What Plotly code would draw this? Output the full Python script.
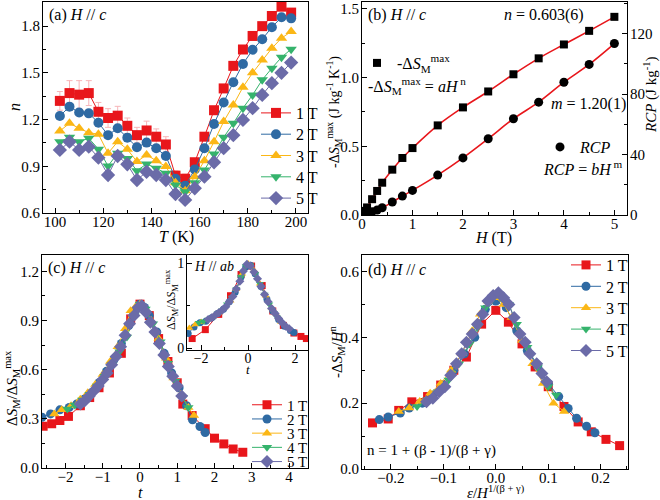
import plotly.graph_objects as go

FONT = "Liberation Serif"
RED, BLUE, YEL, GRN, PUR = "#E8161B", "#2F6AA3", "#FBB716", "#35B36C", "#6B6BA8"
COLORS = [RED, BLUE, YEL, GRN, PUR]
SYMS = ["square", "circle", "triangle-up", "triangle-down", "diamond"]
NAMES = ["1 T", "2 T", "3 T", "4 T", "5 T"]

# ---------- panel (a): n vs T ----------
T_a = [102, 106, 110, 114, 118, 122, 126, 130, 134, 138, 142, 146, 150, 154, 158,
       162, 166, 170, 174, 178, 182, 186, 190, 194, 198]
n_1T = [1.32, 1.37, 1.36, 1.37, 1.25, 1.21, 1.225, 1.16, 1.10, 1.13, 1.09, 1.04, 0.84, 0.82, 0.926,
        1.09, 1.26, 1.40, 1.545, 1.65, 1.737, 1.80, 1.865, 1.925, 1.887]
n_2T = [1.223, 1.283, 1.245, 1.24, 1.18, 1.10, 1.144, 1.084, 1.022, 1.052, 1.016, 0.966, 0.82, 0.775, 0.88,
        1.016, 1.172, 1.31, 1.44, 1.557, 1.648, 1.716, 1.793, 1.857, 1.85]
n_3T = [1.127, 1.176, 1.144, 1.116, 1.106, 0.984, 1.058, 1.009, 0.93, 0.973, 0.936, 0.898, 0.795, 0.743, 0.833,
        0.936, 1.058, 1.187, 1.294, 1.408, 1.50, 1.583, 1.658, 1.723, 1.765]
n_4T = [1.058, 1.086, 1.058, 1.08, 1.01, 0.902, 0.984, 0.95, 0.872, 0.915, 0.887, 0.855, 0.78, 0.737, 0.795,
        0.876, 0.979, 1.086, 1.176, 1.273, 1.358, 1.455, 1.53, 1.60, 1.652]
n_5T = [1.005, 1.058, 1.005, 1.026, 0.955, 0.844, 0.966, 0.913, 0.812, 0.865, 0.844, 0.812, 0.722, 0.684, 0.759,
        0.833, 0.926, 1.016, 1.10, 1.198, 1.273, 1.358, 1.434, 1.50, 1.566]
n_err_1T = [0.06, 0.08, 0.09, 0.08, 0.06, 0.06, 0.06, 0.05, 0.05, 0.06, 0.05, 0.05, 0.03, 0.03, 0.02,
            0.02, 0.02, 0.02, 0.02, 0.02, 0.02, 0.02, 0.02, 0.02, 0.02]

# ---------- panel (b) ----------
H_b = [0.05, 0.1, 0.2, 0.3, 0.4, 0.6, 0.8, 1.0, 1.5, 2.0, 2.5, 3.0, 3.5, 4.0, 4.5, 5.0]
dSmax = [0.03, 0.055, 0.115, 0.175, 0.235, 0.33, 0.415, 0.487, 0.652, 0.783, 0.899, 1.024, 1.14, 1.241, 1.34, 1.442]
RCP = [0.6, 1.1, 2.2, 3.3, 4.8, 8.6, 12.5, 16.3, 26.4, 37.8, 50.5, 63.7, 74.7, 87.9, 99.7, 113.5]

# ---------- panel (c): main ----------
t_c = [
    [-2.6, -2.37, -2.15, -1.92, -1.6, -1.35, -1.1, -0.82, -0.5, -0.25, 0.0, 0.25, 0.5, 0.75, 1.0, 1.15, 1.4, 1.75, 2.0, 2.25, 2.5, 2.76],
    [-2.63, -2.4, -2.15, -1.9, -1.7, -1.5, -1.3, -1.1, -0.9, -0.7, -0.5, -0.3, -0.15, 0.0, 0.12, 0.25, 0.45, 0.65, 0.85, 1.05, 1.25, 1.41, 1.61, 1.75],
    [-2.3, -2.1, -1.85, -1.6, -1.4, -1.2, -1.0, -0.8, -0.6, -0.4, -0.25, -0.1, 0.0, 0.15, 0.3, 0.5, 0.7, 0.9, 1.1, 1.3, 1.45],
    [-1.95, -1.75, -1.55, -1.35, -1.15, -0.95, -0.75, -0.55, -0.35, -0.15, 0.0, 0.15, 0.35, 0.55, 0.75, 0.95, 1.15, 1.3],
    [-1.6, -1.48, -1.36, -1.24, -1.12, -1.0, -0.88, -0.76, -0.64, -0.52, -0.4, -0.28, -0.16, -0.05, 0.05, 0.16, 0.28, 0.4, 0.52, 0.64, 0.76, 0.88, 1.0, 1.12],
]
v_c = [
    [0.255, 0.27, 0.29, 0.315, 0.38, 0.43, 0.49, 0.58, 0.70, 0.91, 1.0, 0.93, 0.79, 0.65, 0.52, 0.39, 0.32, 0.24, 0.182, 0.147, 0.116, 0.096],
    [0.31, 0.33, 0.355, 0.37, 0.39, 0.42, 0.46, 0.52, 0.59, 0.66, 0.76, 0.87, 0.95, 1.0, 0.98, 0.93, 0.83, 0.70, 0.58, 0.49, 0.38, 0.294, 0.253, 0.217],
    [0.33, 0.355, 0.38, 0.42, 0.46, 0.51, 0.57, 0.65, 0.74, 0.85, 0.96, 0.99, 1.0, 0.97, 0.90, 0.79, 0.67, 0.55, 0.45, 0.37, 0.321],
    [0.36, 0.385, 0.415, 0.45, 0.50, 0.56, 0.63, 0.71, 0.80, 0.93, 1.0, 0.97, 0.88, 0.77, 0.64, 0.53, 0.43, 0.37],
    [0.39, 0.41, 0.44, 0.47, 0.50, 0.54, 0.58, 0.63, 0.68, 0.74, 0.81, 0.88, 0.93, 0.98, 0.99, 0.95, 0.89, 0.83, 0.76, 0.69, 0.62, 0.56, 0.50, 0.44],
]

# ---------- panel (c): inset H // ab ----------
t_in = [
    [-2.38, -1.82, -1.25, -0.75, -0.3, 0.15, 0.6, 1.05, 1.5, 1.95, 2.25, 2.48],
    [-2.55, -2.3, -2.05, -1.8, -1.55, -1.3, -1.05, -0.8, -0.55, -0.3, -0.1, 0.1, 0.3, 0.55, 0.8, 1.05, 1.3, 1.55, 1.8, 1.95],
    [-2.5, -2.25, -2.0, -1.75, -1.5, -1.25, -1.0, -0.75, -0.5, -0.25, 0.0, 0.25, 0.5, 0.75, 1.0, 1.2, 1.4],
    [-2.1, -1.9, -1.7, -1.5, -1.3, -1.1, -0.9, -0.7, -0.5, -0.3, -0.1, 0.1, 0.3, 0.5, 0.7, 0.9, 1.1, 1.22],
    [-1.7, -1.55, -1.4, -1.25, -1.1, -0.95, -0.8, -0.65, -0.5, -0.35, -0.2, -0.05, 0.1, 0.25, 0.4, 0.55, 0.7, 0.85, 1.0, 1.15, 1.3, 1.45, 1.6, 1.75],
]
v_in = [
    [0.115, 0.22, 0.40, 0.62, 0.87, 0.97, 0.74, 0.44, 0.27, 0.18, 0.14, 0.115],
    [0.175, 0.25, 0.30, 0.32, 0.36, 0.41, 0.46, 0.55, 0.66, 0.84, 0.96, 0.98, 0.88, 0.73, 0.58, 0.44, 0.34, 0.26, 0.21, 0.185],
    [0.24, 0.28, 0.31, 0.33, 0.37, 0.42, 0.48, 0.56, 0.70, 0.88, 1.0, 0.92, 0.76, 0.62, 0.48, 0.40, 0.31],
    [0.30, 0.32, 0.34, 0.37, 0.41, 0.45, 0.52, 0.60, 0.70, 0.84, 0.97, 0.98, 0.88, 0.76, 0.635, 0.52, 0.42, 0.37],
    [0.34, 0.36, 0.39, 0.42, 0.45, 0.49, 0.55, 0.61, 0.70, 0.79, 0.91, 0.99, 0.97, 0.90, 0.82, 0.73, 0.635, 0.55, 0.47, 0.41, 0.35, 0.30, 0.26, 0.23],
]

# ---------- panel (d) ----------
x_d = [
    [-0.235, -0.205, -0.185, -0.16, -0.13, -0.105, -0.08, -0.056, -0.027, 0.0, 0.024, 0.05, 0.075, 0.1, 0.13, 0.157, 0.182, 0.21, 0.236],
    [-0.222, -0.205, -0.182, -0.165, -0.14, -0.12, -0.1, -0.08, -0.06, -0.04, -0.02, 0.0, 0.02, 0.04, 0.06, 0.08, 0.1, 0.12, 0.138, 0.154, 0.173, 0.189],
    [-0.185, -0.165, -0.145, -0.125, -0.105, -0.085, -0.065, -0.045, -0.03, -0.015, 0.0, 0.015, 0.03, 0.05, 0.07, 0.09, 0.11, 0.13],
    [-0.15, -0.13, -0.11, -0.09, -0.07, -0.05, -0.035, -0.02, -0.005, 0.01, 0.025, 0.04, 0.06, 0.08, 0.1, 0.115],
    [-0.132, -0.12, -0.108, -0.097, -0.086, -0.075, -0.065, -0.056, -0.045, -0.035, -0.025, -0.015, -0.005, 0.005, 0.015, 0.025, 0.035, 0.046, 0.056, 0.065, 0.078, 0.088, 0.097],
]
y_d = [
    [0.14, 0.152, 0.178, 0.204, 0.22, 0.255, 0.30, 0.34, 0.44, 0.482, 0.446, 0.38, 0.31, 0.25, 0.19, 0.143, 0.113, 0.09, 0.071],
    [0.15, 0.158, 0.17, 0.185, 0.20, 0.225, 0.255, 0.30, 0.35, 0.40, 0.485, 0.51, 0.49, 0.42, 0.36, 0.31, 0.26, 0.22, 0.184, 0.154, 0.13, 0.11],
    [0.175, 0.185, 0.205, 0.23, 0.26, 0.30, 0.35, 0.42, 0.47, 0.51, 0.52, 0.50, 0.46, 0.39, 0.32, 0.26, 0.20, 0.175],
    [0.19, 0.21, 0.235, 0.27, 0.32, 0.38, 0.43, 0.49, 0.52, 0.52, 0.50, 0.44, 0.37, 0.31, 0.25, 0.225],
    [0.204, 0.215, 0.235, 0.25, 0.285, 0.32, 0.35, 0.385, 0.41, 0.44, 0.47, 0.51, 0.527, 0.535, 0.52, 0.50, 0.46, 0.41, 0.385, 0.35, 0.32, 0.29, 0.265],
]

W, Hh = 660, 500
def px(x):
    return x / W
def py(y):
    return 1 - y / Hh

fig = go.Figure()
legends = {}
leg_counter = [0]

def new_legend(xm, yc, size=16):
    """one legend per entry; xm = marker centre px, yc = row centre px"""
    leg_counter[0] += 1
    k = leg_counter[0]
    name = "legend" if k == 1 else f"legend{k}"
    legends[name] = dict(x=px(xm - 21), y=py(yc), xanchor="left", yanchor="middle",
                         font=dict(family=FONT, size=size, color="black"),
                         bgcolor="rgba(0,0,0,0)", itemwidth=30, borderwidth=0)
    return name

# panel a traces
n_all = [n_1T, n_2T, n_3T, n_4T, n_5T]
for i in range(5):
    kw = {}
    if i == 0:
        kw["error_y"] = dict(type="data", array=n_err_1T, color="#F7B5B8", thickness=1, width=3)
    fig.add_trace(go.Scatter(
        x=T_a, y=n_all[i], mode="lines+markers", name=NAMES[i],
        line=dict(color=COLORS[i], width=1),
        marker=dict(symbol=SYMS[i], size=10 if i != 4 else 11, color=COLORS[i], line=dict(width=0)),
        xaxis="x", yaxis="y", legend=new_legend(277, 113 + 21.3 * i), **kw))

# panel b traces
fig.add_trace(go.Scatter(x=H_b, y=dSmax, mode="lines", line=dict(color=RED, width=1.6, shape="spline"),
                         showlegend=False, xaxis="x2", yaxis="y2"))
fig.add_trace(go.Scatter(x=H_b, y=dSmax, mode="markers", name="-Δ<i>S</i><sub>M</sub><sup>max</sup>",
                         marker=dict(symbol="square", size=8, color="black"),
                         xaxis="x2", yaxis="y2", legend=new_legend(378, 63)))
fig.add_trace(go.Scatter(x=H_b, y=RCP, mode="lines", line=dict(color=RED, width=1.6, shape="spline"),
                         showlegend=False, xaxis="x2", yaxis="y3"))
fig.add_trace(go.Scatter(x=H_b, y=RCP, mode="markers", name="<i>RCP</i>",
                         marker=dict(symbol="circle", size=9, color="black"),
                         xaxis="x2", yaxis="y3", legend=new_legend(561, 147)))

# panel c main
for i in range(5):
    fig.add_trace(go.Scatter(
        x=t_c[i], y=v_c[i], mode="lines+markers", name=NAMES[i],
        line=dict(color=COLORS[i], width=1),
        marker=dict(symbol=SYMS[i], size=9 if i != 4 else 10, color=COLORS[i], line=dict(width=0)),
        xaxis="x4", yaxis="y4", legend=new_legend(268, 405 + 14.2 * i, size=15)))
# inset
for i in range(5):
    fig.add_trace(go.Scatter(
        x=t_in[i], y=v_in[i], mode="lines+markers", showlegend=False,
        line=dict(color=COLORS[i], width=1),
        marker=dict(symbol=SYMS[i], size=7, color=COLORS[i], line=dict(width=0)),
        xaxis="x5", yaxis="y5"))
# panel d
for i in range(5):
    fig.add_trace(go.Scatter(
        x=x_d[i], y=y_d[i], mode="lines+markers", name=NAMES[i],
        line=dict(color=COLORS[i], width=1),
        marker=dict(symbol=SYMS[i], size=9 if i != 4 else 10, color=COLORS[i], line=dict(width=0)),
        xaxis="x6", yaxis="y6", legend=new_legend(587, 265 + 21.4 * i)))

tickfont = dict(family=FONT, size=15, color="black")
def ax(domain, rng, dtick, minor, fmt=None, anchor=None, tick0=None, xdir=True, **extra):
    d = dict(domain=domain, range=rng, dtick=dtick, ticks="inside", ticklen=5, tickwidth=1,
             tickcolor="black", showline=True, linecolor="black", linewidth=1, mirror=True,
             showgrid=False, zeroline=False, tickfont=tickfont,
             ticklabelstandoff=-5 if xdir else -1,
             minor=dict(ticks="inside", ticklen=3, dtick=minor, tickcolor="black", showgrid=False))
    if fmt:
        d["tickformat"] = fmt
    if anchor:
        d["anchor"] = anchor
    if tick0 is not None:
        d["tick0"] = tick0
    d.update(extra)
    return d

small = dict(family=FONT, size=14, color="black")
fig.update_layout(
    width=W, height=Hh, autosize=False,
    margin=dict(l=0, r=0, t=0, b=0, autoexpand=False),
    paper_bgcolor="white", plot_bgcolor="white",
    font=dict(family=FONT, size=15, color="black"),
    xaxis=ax([px(43), px(308)], [95, 205], 20, 10, anchor="y"),
    yaxis=ax([py(213), py(2)], [0.6, 1.955], 0.3, 0.15, fmt=".1f", anchor="x", tick0=0.6, xdir=False),
    xaxis2=ax([px(362), px(627)], [0, 5.25], 1, 0.5, anchor="y2"),
    yaxis2=ax([py(215), py(2)], [0, 1.55], 0.5, 0.25, fmt=".1f", anchor="x2", mirror=False, xdir=False),
    yaxis3=dict(overlaying="y2", side="right", anchor="x2", range=[0, 141], dtick=40,
                ticks="inside", ticklen=5, tickcolor="black", showline=True, linecolor="black",
                linewidth=1, showgrid=False, zeroline=False, tickfont=tickfont, ticklabelstandoff=-1,
                minor=dict(ticks="inside", ticklen=3, dtick=20, tickcolor="black")),
    xaxis4=ax([px(42), px(308)], [-2.63, 4.51], 1, 0.5, anchor="y4"),
    yaxis4=ax([py(468), py(255)], [0, 1.3], 0.3, 0.15, fmt=".1f", anchor="x4", xdir=False),
    xaxis5=ax([px(187), px(308)], [-2.6, 2.55], 2, 1, anchor="y5", tickfont=small),
    yaxis5=ax([py(350), py(255)], [-0.02, 1.1], 1, 0.5, anchor="x5", tickfont=small, xdir=False),
    xaxis6=ax([px(362), px(628)], [-0.255, 0.252], 0.1, 0.05, fmt=".1f", anchor="y6"),
    yaxis6=ax([py(469), py(255)], [0, 0.65], 0.2, 0.1, fmt=".1f", anchor="x6", xdir=False),
    **legends,
)

ann = []
def A(x, y, text, size=16, angle=0, xanchor="center", yanchor="middle"):
    ann.append(dict(x=px(x), y=py(y), xref="paper", yref="paper", text=text, showarrow=False,
                    textangle=angle, xanchor=xanchor, yanchor=yanchor,
                    font=dict(family=FONT, size=size, color="black")))

A(47, 15, "(a) <i>H</i> // <i>c</i>", xanchor="left")
A(15, 107, "<i>n</i>", angle=-90)
A(176, 237, "<i>T</i> (K)")
A(366, 15, "(b) <i>H</i> // <i>c</i>", xanchor="left")
A(544, 15, "<i>n</i> = 0.603(6)")
A(366, 86, "-Δ<i>S</i><sub>M</sub><sup>max</sup> = <i>aH</i><sup> n</sup>", xanchor="left")
A(588, 104, "<i>m</i> = 1.20(1)")
A(583, 168, "<i>RCP</i> = <i>bH</i><sup> m</sup>")
A(334, 112, "-Δ<i>S</i><sub>M</sub><sup>max</sup> (J kg<sup>-1</sup> K<sup>-1</sup>)", size=14, angle=-90)
A(651, 95, "<i>RCP</i> (J kg<sup>-1</sup>)", size=15, angle=-90)
A(493, 238, "<i>H</i> (T)")
A(46, 268, "(c) <i>H</i> // <i>c</i>", xanchor="left")
A(12, 388, "Δ<i>S</i><sub>M</sub>/Δ<i>S</i><sub>M</sub><sup>max</sup>", size=15, angle=-90)
A(140, 492, "<i>t</i>")
A(192, 266, "<i>H</i> // <i>ab</i>", size=14, xanchor="left")
A(171, 300, "Δ<i>S</i><sub>M</sub>/Δ<i>S</i><sub>M</sub><sup>max</sup>", size=12, angle=-90)
A(248, 369, "<i>t</i>", size=13)
A(366, 270, "(d) <i>H</i> // <i>c</i>", xanchor="left")
A(365, 450, "n = 1 + (β - 1)/(β + γ)", size=15, xanchor="left")
A(337, 352, "-Δ<i>S</i><sub>M</sub>/<i>H</i><sup>n</sup>", size=15, angle=-90)
A(496, 492, "<i>ε</i>/<i>H</i><sup>1/(β + γ)</sup>", size=15)
fig.update_layout(annotations=ann)

fig.write_html("out.html", config={"displayModeBar": False},
               post_script="document.body.style.margin='0px';")
